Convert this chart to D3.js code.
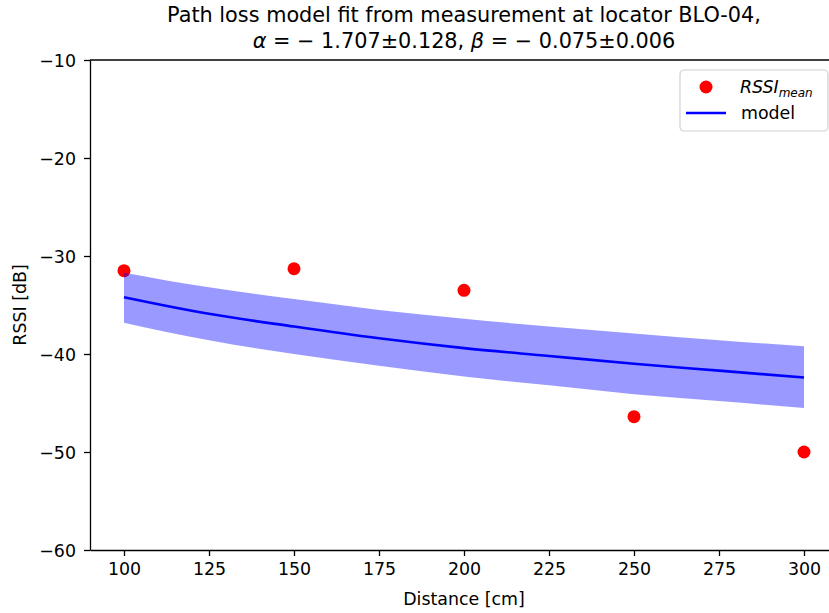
<!DOCTYPE html>
<html>
<head>
<meta charset="utf-8">
<script src="https://cdn.jsdelivr.net/npm/d3@7"></script>
<style>
  body { margin: 0; background: #fff; }
  svg { font-family: "DejaVu Sans", sans-serif; }
  .axis path, .axis line { stroke: #000; stroke-width: 1.3; }
  .axis text { font-size: 17.4px; fill: #000; font-family: "DejaVu Sans", sans-serif; }
</style>
</head>
<body>
<div id="vis"></div>
<script>
// measured mean RSSI per distance
var distances = [100, 150, 200, 250, 300],
    rssiMean = [-31.5, -31.3, -33.5, -46.4, -50.0];

// model curve + confidence band
var modelX = [100, 125, 150, 175, 200, 225, 250, 275, 300],
    modelY = [-34.2, -35.9, -37.2, -38.4, -39.4, -40.2, -41.0, -41.7, -42.4],
    bandHi = [-31.7, -33.2, -34.4, -35.5, -36.4, -37.2, -37.9, -38.6, -39.2],
    bandLo = [-36.8, -38.6, -40.0, -41.2, -42.3, -43.2, -44.1, -44.8, -45.5];

var xTicks = [100, 125, 150, 175, 200, 225, 250, 275, 300],
    yTicks = [-60, -50, -40, -30, -20, -10];

var w = 829,
    h = 613,
    padL = 90, padR = 838, padT = 60, padB = 550,
    tickLen = 6;

var x = d3.scaleLinear().domain([90, 310]).range([padL, padR]),
    y = d3.scaleLinear().domain([-60, -10]).range([padB, padT]);

var svg = d3.select("#vis").append("svg")
    .attr("width", w)
    .attr("height", h);

var plot = svg.append("g");

// data points
plot.selectAll(".pt")
    .data(distances)
    .enter()
    .append("circle")
    .attr("class", "pt")
    .attr("cx", function(d) { return x(d); })
    .attr("cy", function(d, i) { return y(rssiMean[i]); })
    .attr("r", 6.5)
    .attr("fill", "#ff0000");

// band
var area = d3.area()
    .x(function(d, i) { return x(d); })
    .y0(function(d, i) { return y(bandLo[i]); })
    .y1(function(d, i) { return y(bandHi[i]); })
    .curve(d3.curveMonotoneX);

plot.append("path")
    .datum(modelX)
    .attr("d", area)
    .attr("fill", "#0000ff")
    .attr("fill-opacity", 0.4);

// model line
var line = d3.line()
    .x(function(d) { return x(d); })
    .y(function(d, i) { return y(modelY[i]); })
    .curve(d3.curveMonotoneX);

plot.append("path")
    .datum(modelX)
    .attr("d", line)
    .attr("fill", "none")
    .attr("stroke", "#0000ff")
    .attr("stroke-width", 2.6);

/*** AXES ***/
var xAxis = svg.append("g")
    .attr("class", "axis")
    .attr("transform", "translate(0," + padB + ")")
    .call(d3.axisBottom(x).tickValues(xTicks).tickSize(tickLen).tickPadding(7).tickSizeOuter(0));

var yAxis = svg.append("g")
    .attr("class", "axis")
    .attr("transform", "translate(" + padL + ",0)")
    .call(d3.axisLeft(y).tickValues(yTicks).tickSize(tickLen).tickPadding(8).tickSizeOuter(0)
        .tickFormat(function(d) { return "\u2212" + Math.abs(d); }));
yAxis.selectAll("text").attr("dy", "0.36em");

// top & right spines
svg.append("line")
    .attr("x1", padL).attr("x2", padR)
    .attr("y1", padT).attr("y2", padT)
    .attr("stroke", "#000").attr("stroke-width", 1.3);
svg.append("line")
    .attr("x1", padR).attr("x2", padR)
    .attr("y1", padT).attr("y2", padB)
    .attr("stroke", "#000").attr("stroke-width", 1.3);

// labels
svg.append("text")
    .attr("x", (padL + padR) / 2)
    .attr("y", 605)
    .attr("text-anchor", "middle")
    .attr("font-size", 17.4)
    .text("Distance [cm]");

svg.append("text")
    .attr("transform", "translate(26," + ((padT + padB) / 2) + ") rotate(-90)")
    .attr("text-anchor", "middle")
    .attr("font-size", 17.4)
    .text("RSSI [dB]");

// title
var title = svg.append("text")
    .attr("x", (padL + padR) / 2)
    .attr("text-anchor", "middle")
    .attr("font-size", 20.8);
title.append("tspan").attr("x", (padL + padR) / 2).attr("y", 22)
    .text("Path loss model fit from measurement at locator BLO-04,");
var t2 = title.append("tspan").attr("x", (padL + padR) / 2).attr("y", 48);
t2.append("tspan").attr("font-style", "italic").text("\u03b1");
t2.append("tspan").text(" = \u2212 1.707\u00b10.128, ");
t2.append("tspan").attr("font-style", "italic").text("\u03b2");
t2.append("tspan").text(" = \u2212 0.075\u00b10.006");

/*** LEGEND ***/
var lg = svg.append("g").attr("transform", "translate(680,70)");
lg.append("rect")
    .attr("width", 148).attr("height", 61)
    .attr("rx", 4)
    .attr("fill", "#fff").attr("fill-opacity", 0.8)
    .attr("stroke", "#d0d0d0").attr("stroke-width", 1.2);
lg.append("circle")
    .attr("cx", 26).attr("cy", 17).attr("r", 6.5)
    .attr("fill", "#ff0000");
var lt = lg.append("text")
    .attr("x", 60).attr("y", 23)
    .attr("font-size", 17.4)
    .attr("font-style", "italic");
lt.append("tspan").text("RSSI");
lt.append("tspan").attr("font-size", 12).attr("dy", 4).text("mean");
lg.append("line")
    .attr("x1", 6).attr("x2", 46)
    .attr("y1", 43).attr("y2", 43)
    .attr("stroke", "#0000ff").attr("stroke-width", 2.6);
lg.append("text")
    .attr("x", 61).attr("y", 49)
    .attr("font-size", 17.4)
    .text("model");
</script>
</body>
</html>
